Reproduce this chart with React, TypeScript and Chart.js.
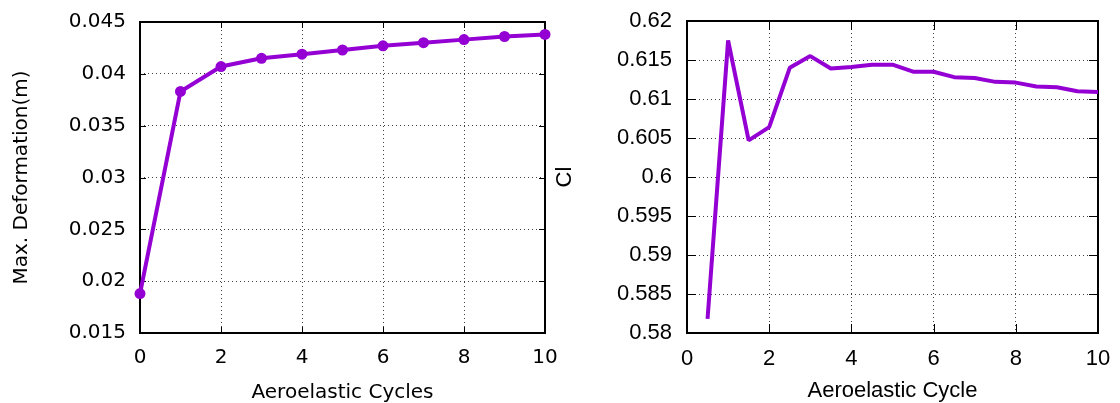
import React, { useEffect, useRef } from "react";
import { Chart, registerables } from "chart.js";

Chart.register(...registerables);

// ---- Data ----
const cycles = [0, 1, 2, 3, 4, 5, 6, 7, 8, 9, 10];
const maxDeformation = [0.0188, 0.0383, 0.0407, 0.0415, 0.0419, 0.0423, 0.0427, 0.043, 0.0433, 0.0436, 0.0438];
const deformationTicks = [0.015, 0.02, 0.025, 0.03, 0.035, 0.04, 0.045];

const clCycles = [0.5, 1, 1.5, 2, 2.5, 3, 3.5, 4, 4.5, 5, 5.5, 6, 6.5, 7, 7.5, 8, 8.5, 9, 9.5, 10];
const clValues = [0.5818, 0.6175, 0.6047, 0.6064, 0.614, 0.6155, 0.6139, 0.6141, 0.6144, 0.6144, 0.6135, 0.6135, 0.6128, 0.6127, 0.6122, 0.6121, 0.6116, 0.6115, 0.611, 0.6109];
const clTicks = [0.58, 0.585, 0.59, 0.595, 0.6, 0.605, 0.61, 0.615, 0.62];

const cycleTicks = [0, 2, 4, 6, 8, 10];

const PURPLE = "#9400D3";

function fmt(v: number) {
  return parseFloat(Number(v).toFixed(4)).toString();
}

function framePlugin(len: number) {
  return {
    id: "frameTicks",
    beforeDatasetsDraw(chart: any) {
      const { ctx, chartArea, scales } = chart;
      const { left, right, top, bottom } = chartArea;
      const x = scales.x;
      const y = scales.y;
      ctx.save();
      ctx.strokeStyle = "#000";
      ctx.lineWidth = 1;
      ctx.beginPath();
      x.ticks.forEach((t: any) => {
        const px = Math.round(x.getPixelForValue(t.value)) + 0.5;
        ctx.moveTo(px, bottom);
        ctx.lineTo(px, bottom - len);
        ctx.moveTo(px, top);
        ctx.lineTo(px, top + len);
      });
      y.ticks.forEach((t: any) => {
        const py = Math.round(y.getPixelForValue(t.value)) + 0.5;
        ctx.moveTo(left, py);
        ctx.lineTo(left + len, py);
        ctx.moveTo(right, py);
        ctx.lineTo(right - len, py);
      });
      ctx.stroke();
      ctx.lineWidth = 2;
      ctx.strokeRect(left, top, right - left, bottom - top);
      ctx.restore();
    },
  };
}

type Cfg = {
  xs: number[];
  ys: number[];
  yTicks: number[];
  xTitle: string;
  yTitle: string;
  family: string;
  size: number;
  yWidth: number;
  yTitlePad: number;
  xTitlePad: number;
  xTickPad: number;
  yTickPad: number;
  padding: { left: number; right: number; top: number; bottom: number };
  tickLen: number;
  points: boolean;
};

function LineChart({ cfg, width, height, left }: { cfg: Cfg; width: number; height: number; left: number }) {
  const ref = useRef<HTMLCanvasElement | null>(null);
  useEffect(() => {
    if (!ref.current) return;
    const font = { family: cfg.family, size: cfg.size };
    const gridColor = "rgba(0,0,0,0.75)";
    const chart = new Chart(ref.current, {
      type: "line",
      data: {
        datasets: [
          {
            data: cfg.xs.map((x, i) => ({ x, y: cfg.ys[i] })),
            borderColor: PURPLE,
            backgroundColor: PURPLE,
            borderWidth: 4,
            borderJoinStyle: "bevel",
            borderCapStyle: "butt",
            pointRadius: cfg.points ? 5.5 : 0,
            pointHoverRadius: cfg.points ? 5.5 : 0,
            pointBackgroundColor: PURPLE,
            pointBorderWidth: 0,
            tension: 0,
            clip: false as any,
          },
        ],
      },
      options: {
        responsive: false,
        animation: false,
        devicePixelRatio: 1,
        layout: { padding: cfg.padding },
        plugins: { legend: { display: false }, tooltip: { enabled: false } },
        scales: {
          x: {
            type: "linear",
            min: cycleTicks[0],
            max: cycleTicks[cycleTicks.length - 1],
            afterBuildTicks: (s: any) => {
              s.ticks = cycleTicks.map((v) => ({ value: v }));
            },
            afterFit: (s: any) => {
              s.height = height - cfg.padding.bottom - 333;
              s.paddingLeft = 0;
              s.paddingRight = 0;
            },
            ticks: {
              color: "#000",
              font,
              padding: cfg.xTickPad,
              maxRotation: 0,
              autoSkip: false,
              callback: (v: any) => fmt(v),
            },
            grid: { color: gridColor, lineWidth: 1, drawTicks: false },
            border: { display: false, dash: [1, 3] },
            title: {
              display: true,
              text: cfg.xTitle,
              color: "#000",
              font,
              padding: { top: 0, bottom: cfg.xTitlePad },
            },
          },
          y: {
            type: "linear",
            min: cfg.yTicks[0],
            max: cfg.yTicks[cfg.yTicks.length - 1],
            afterBuildTicks: (s: any) => {
              s.ticks = cfg.yTicks.map((v) => ({ value: v }));
            },
            afterFit: (s: any) => {
              s.width = cfg.yWidth;
              s.paddingTop = 0;
              s.paddingBottom = 0;
            },
            ticks: {
              color: "#000",
              font,
              padding: cfg.yTickPad,
              autoSkip: false,
              callback: (v: any) => fmt(v),
            },
            grid: { color: gridColor, lineWidth: 1, drawTicks: false },
            border: { display: false, dash: [1, 3] },
            title: {
              display: true,
              text: cfg.yTitle,
              color: "#000",
              font,
              padding: { top: cfg.yTitlePad, bottom: 0 },
            },
          },
        },
      },
      plugins: [framePlugin(cfg.tickLen)],
    } as any);
    return () => chart.destroy();
  }, []);
  return (
    <canvas
      ref={ref}
      width={width}
      height={height}
      style={{ position: "absolute", left, top: 0, width, height, display: "block" }}
    />
  );
}

const leftCfg: Cfg = {
  xs: cycles,
  ys: maxDeformation,
  yTicks: deformationTicks,
  xTitle: "Aeroelastic Cycles",
  yTitle: "Max. Deformation(m)",
  family: "'DejaVu Sans'",
  size: 20,
  yWidth: 140,
  yTitlePad: 10,
  xTitlePad: -2,
  xTickPad: 13,
  yTickPad: 14,
  padding: { left: 0, right: 15, top: 22, bottom: 0 },
  tickLen: 6,
  points: true,
};

const rightCfg: Cfg = {
  xs: clCycles,
  ys: clValues,
  yTicks: clTicks,
  xTitle: "Aeroelastic Cycle",
  yTitle: "Cl",
  family: "'Liberation Sans'",
  size: 22,
  yWidth: 137,
  yTitlePad: 2,
  xTitlePad: -1,
  xTickPad: 13,
  yTickPad: 15,
  padding: { left: 0, right: 22, top: 21, bottom: 0 },
  tickLen: 9,
  points: false,
};

export default function App() {
  return (
    <div style={{ position: "fixed", left: 0, top: 0, width: 1120, height: 403, background: "#fff" }}>
      <LineChart cfg={leftCfg} width={560} height={403} left={0} />
      <LineChart cfg={rightCfg} width={570} height={403} left={550} />
    </div>
  );
}
